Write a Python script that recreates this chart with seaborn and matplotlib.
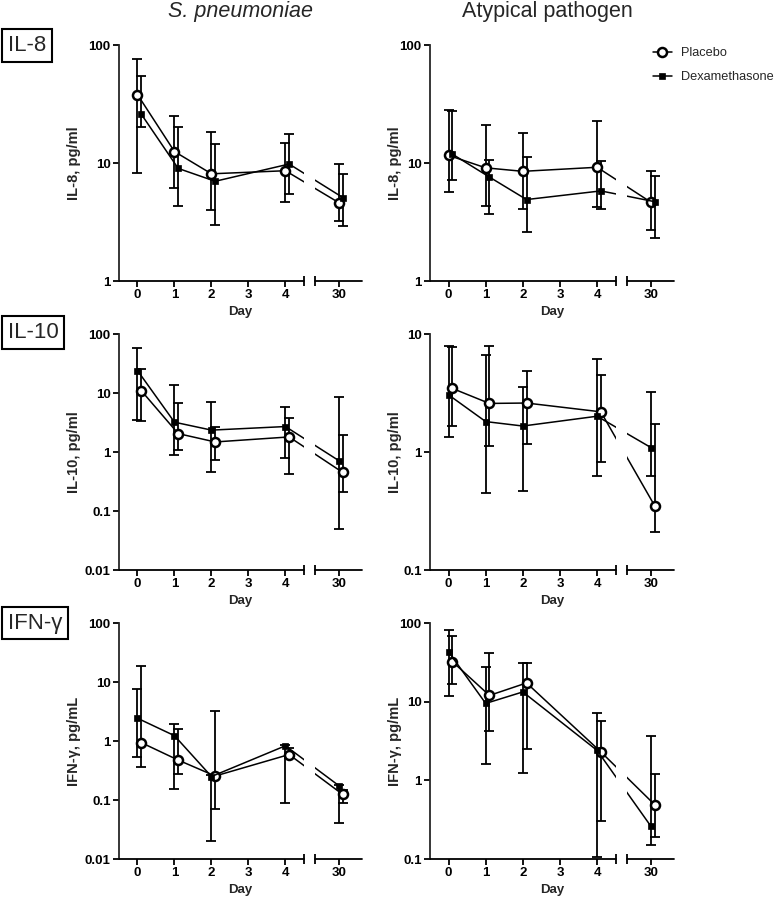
import matplotlib
matplotlib.use("Agg")
import matplotlib.pyplot as plt
import seaborn as sns
from matplotlib.lines import Line2D
from matplotlib.ticker import FixedLocator, FuncFormatter, NullLocator, LogLocator

days = [0, 1, 2, 4, 30]
x_ticks = [0, 1, 2, 3, 4, 30]
groups = ["Placebo", "Dexamethasone"]
cytokines = ["IL-8", "IL-10", "IFN-\u03b3"]
pathogens = ["S. pneumoniae", "Atypical pathogen"]
y_labels = ["IL-8, pg/ml", "IL-10, pg/ml", "IFN-\u03b3, pg/mL"]

# centre value with lower / upper error limits
il8_spn_placebo = [38, 12.5, 8.1, 8.6, 4.6]
il8_spn_placebo_lo = [8.3, 6.1, 4.0, 4.7, 3.2]
il8_spn_placebo_hi = [76, 25, 18.2, 14.9, 9.8]
il8_spn_dexa = [26, 9.0, 7.0, 9.8, 5.1]
il8_spn_dexa_lo = [20, 4.3, 3.0, 5.5, 2.9]
il8_spn_dexa_hi = [55, 20.3, 14.4, 17.6, 8.0]

il8_atyp_placebo = [11.6, 9.1, 8.5, 9.2, 4.65]
il8_atyp_placebo_lo = [5.7, 4.3, 4.1, 4.2, 2.7]
il8_atyp_placebo_hi = [28, 20.8, 17.9, 22.5, 8.5]
il8_atyp_dexa = [11.9, 7.6, 4.9, 5.8, 4.7]
il8_atyp_dexa_lo = [7.2, 3.7, 2.6, 4.1, 2.3]
il8_atyp_dexa_hi = [27.7, 10.6, 11.3, 10.4, 7.8]

il10_spn_placebo = [11, 2.05, 1.48, 1.8, 0.45]
il10_spn_placebo_lo = [3.3, 1.08, 0.74, 0.42, 0.21]
il10_spn_placebo_hi = [25.7, 6.7, 2.65, 3.7, 1.97]
il10_spn_dexa = [24, 3.2, 2.35, 2.7, 0.71]
il10_spn_dexa_lo = [3.5, 0.9, 0.46, 0.80, 0.05]
il10_spn_dexa_hi = [57.5, 13.7, 7.0, 5.9, 8.5]

il10_atyp_placebo = [3.46, 2.58, 2.6, 2.19, 0.35]
il10_atyp_placebo_lo = [1.65, 1.12, 1.17, 0.82, 0.21]
il10_atyp_placebo_hi = [7.7, 7.9, 4.9, 4.5, 1.74]
il10_atyp_dexa = [3.05, 1.81, 1.66, 2.01, 1.09]
il10_atyp_dexa_lo = [1.33, 0.45, 0.47, 0.62, 0.62]
il10_atyp_dexa_hi = [7.9, 6.65, 3.55, 6.1, 3.2]

ifng_spn_placebo = [0.94, 0.475, 0.255, 0.59, 0.124]
ifng_spn_placebo_lo = [0.36, 0.28, 0.07, 0.52, 0.09]
ifng_spn_placebo_hi = [18.5, 1.6, 3.2, 0.75, 0.15]
ifng_spn_dexa = [2.43, 1.23, 0.25, 0.83, 0.174]
ifng_spn_dexa_lo = [0.53, 0.152, 0.02, 0.09, 0.04]
ifng_spn_dexa_hi = [7.6, 1.97, 0.27, 0.85, 0.18]

ifng_atyp_placebo = [32.4, 12, 17.3, 2.3, 0.49]
ifng_atyp_placebo_lo = [16.6, 4.2, 2.5, 0.30, 0.19]
ifng_atyp_placebo_hi = [68, 41.5, 31, 5.6, 1.2]
ifng_atyp_dexa = [43, 9.5, 13.3, 2.4, 0.26]
ifng_atyp_dexa_lo = [11.9, 1.59, 1.24, 0.107, 0.149]
ifng_atyp_dexa_hi = [81, 27.7, 31, 7.1, 3.7]

panels = [
    [
        [(il8_spn_placebo, il8_spn_placebo_lo, il8_spn_placebo_hi),
         (il8_spn_dexa, il8_spn_dexa_lo, il8_spn_dexa_hi)],
        [(il8_atyp_placebo, il8_atyp_placebo_lo, il8_atyp_placebo_hi),
         (il8_atyp_dexa, il8_atyp_dexa_lo, il8_atyp_dexa_hi)],
    ],
    [
        [(il10_spn_placebo, il10_spn_placebo_lo, il10_spn_placebo_hi),
         (il10_spn_dexa, il10_spn_dexa_lo, il10_spn_dexa_hi)],
        [(il10_atyp_placebo, il10_atyp_placebo_lo, il10_atyp_placebo_hi),
         (il10_atyp_dexa, il10_atyp_dexa_lo, il10_atyp_dexa_hi)],
    ],
    [
        [(ifng_spn_placebo, ifng_spn_placebo_lo, ifng_spn_placebo_hi),
         (ifng_spn_dexa, ifng_spn_dexa_lo, ifng_spn_dexa_hi)],
        [(ifng_atyp_placebo, ifng_atyp_placebo_lo, ifng_atyp_placebo_hi),
         (ifng_atyp_dexa, ifng_atyp_dexa_lo, ifng_atyp_dexa_hi)],
    ],
]
y_limits = [[(1, 100), (1, 100)], [(0.01, 100), (0.1, 10)], [(0.01, 100), (0.1, 100)]]

sns.set_style("ticks")
plt.rcParams["font.family"] = ["Liberation Sans", "DejaVu Sans"]

# broken x axis: day 30 sits after a short gap
BREAK_LO, BREAK_HI, POS_30, X_MAX = 4.5, 4.8, 5.45, 6.07


def to_pos(d):
    return POS_30 if d == 30 else d


marker_style = {
    "Placebo": dict(marker="o", markersize=6.5, markerfacecolor="white",
                    markeredgecolor="black", markeredgewidth=1.8),
    "Dexamethasone": dict(marker="s", markersize=4.8, markerfacecolor="black",
                          markeredgecolor="black", markeredgewidth=0.5),
}
# small horizontal nudge so the two groups do not overlap
nudge = [{"Placebo": 0.0, "Dexamethasone": 0.1},
         {"Placebo": 0.1, "Dexamethasone": 0.0},
         {"Placebo": 0.1, "Dexamethasone": 0.0}]

W, H = 777, 897
fig = plt.figure(figsize=(W / 100, H / 100), dpi=100)
col_left = [119, 430]
col_width = [243, 244]
row_top = [45, 334, 623]
ax_h = 236

for r in range(3):
    for c in range(2):
        ax = fig.add_axes([col_left[c] / W, 1 - (row_top[r] + ax_h) / H,
                           col_width[c] / W, ax_h / H])
        for g, (vals, lo, hi) in zip(groups, panels[r][c]):
            xs = [to_pos(d) + nudge[r][g] for d in days]
            err = [[v - l for v, l in zip(vals, lo)], [h - v for v, h in zip(vals, hi)]]
            ax.errorbar(xs, vals, yerr=err, fmt="none", ecolor="black",
                        elinewidth=1.3, capsize=3.3, capthick=1.3, zorder=2)
            sns.lineplot(x=xs, y=vals, ax=ax, color="black", linewidth=1.1,
                         legend=False, zorder=4, **marker_style[g])
        ax.set_yscale("log")
        ax.set_ylim(*y_limits[r][c])
        ax.set_xlim(-0.5, X_MAX)
        ax.yaxis.set_major_locator(LogLocator(base=10))
        ax.yaxis.set_minor_locator(NullLocator())
        ax.yaxis.set_major_formatter(FuncFormatter(lambda v, p: f"{v:g}"))
        ax.xaxis.set_major_locator(FixedLocator([to_pos(d) for d in x_ticks]))
        ax.set_xticklabels([str(d) for d in x_ticks])
        ax.tick_params(direction="out", length=4, width=1.3, pad=2,
                       labelsize=9.5, colors="black")
        for lab in ax.get_xticklabels() + ax.get_yticklabels():
            lab.set_fontweight("bold")
        for s in ["top", "right", "bottom"]:
            ax.spines[s].set_visible(False)
        ax.spines["left"].set_linewidth(1.3)

        # gap in the data lines and the split x axis
        ax.axvspan(BREAK_LO, BREAK_HI, color="white", zorder=5, lw=0)
        tr = ax.get_xaxis_transform()
        ax.plot([-0.5, BREAK_LO], [0, 0], color="black", lw=1.3, transform=tr,
                clip_on=False, zorder=6)
        ax.plot([BREAK_HI, X_MAX], [0, 0], color="black", lw=1.3, transform=tr,
                clip_on=False, zorder=6)
        ax.plot([BREAK_LO, BREAK_HI], [0, 0], ls="none", marker="|", markersize=7,
                mew=1.3, color="black", transform=tr, clip_on=False, zorder=6)

        ax.set_xlabel("Day", fontsize=9.5, fontweight="bold", labelpad=3)
        ax.set_ylabel(y_labels[r], fontsize=10.5, fontweight="bold")
        ax.yaxis.set_label_coords(-0.155 if c == 0 else -0.115, 0.5)

        if r == 0 and c == 1:
            handles = [Line2D([], [], color="black", lw=1.1, **marker_style[g]) for g in groups]
            fig.legend(handles, groups, loc="upper left",
                       bbox_to_anchor=(648 / W, 1 - 42 / H), frameon=False,
                       fontsize=9.2, handlelength=1.45, handletextpad=0.75,
                       labelspacing=0.95, borderaxespad=0)

# column titles
fig.text(240 / W, 1 - 11 / H, pathogens[0], ha="center", va="center",
         fontsize=15.5, style="italic")
fig.text(547 / W, 1 - 11 / H, pathogens[1], ha="center", va="center", fontsize=15.5)

# boxed row labels
row_label_y = [45.5, 332.5, 623]
for r in range(3):
    fig.text(8 / W, 1 - row_label_y[r] / H, cytokines[r], ha="left", va="center",
             fontsize=16,
             bbox=dict(boxstyle="square,pad=0.25", fc="white", ec="black", lw=1.5))

fig.savefig("out.png", dpi=100)
